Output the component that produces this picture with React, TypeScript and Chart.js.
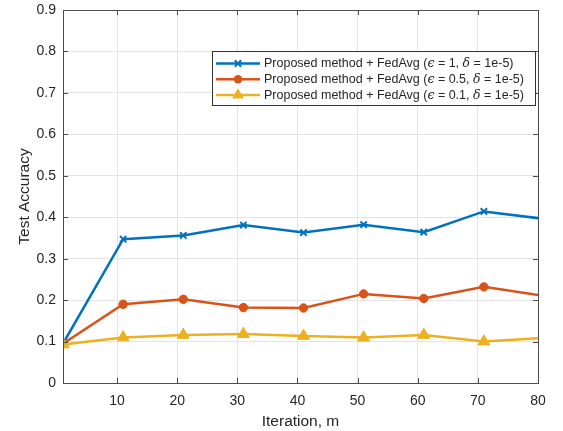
import React, { useEffect, useRef } from 'react';
import { Chart, registerables } from 'chart.js';

Chart.register(...registerables);

const iterations = [1, 11, 21, 31, 41, 51, 61, 71, 81];
const accEps1 = [0.095, 0.347, 0.356, 0.381, 0.363, 0.382, 0.364, 0.414, 0.396];
const accEps05 = [0.095, 0.19, 0.202, 0.182, 0.181, 0.215, 0.204, 0.232, 0.21];
const accEps01 = [0.093, 0.11, 0.116, 0.118, 0.1135, 0.1095, 0.116, 0.1, 0.109];
const xTickValues = [10, 20, 30, 40, 50, 60, 70, 80];
const yTickValues = [0, 0.1, 0.2, 0.3, 0.4, 0.5, 0.6, 0.7, 0.8, 0.9];
const epsLabels = ['1', '0.5', '0.1'];
const deltaLabel = '1e-5';
const seriesColors = ['#0072BD', '#D95319', '#EDB120'];
const seriesStyles = ['crossRot', 'circle', 'triangle'];
const seriesRadius = [4.5, 4.2, 6.8];

const FONT = '"Liberation Sans", Arial, Helvetica, sans-serif';
const TEXT = '#262626';
const AXIS = '#4d4d4d';

function drawMarker(ctx: CanvasRenderingContext2D, style: string, x: number, y: number, r: number, color: string) {
  ctx.save();
  ctx.fillStyle = color;
  ctx.strokeStyle = color;
  ctx.lineWidth = 2;
  ctx.beginPath();
  if (style === 'circle') {
    ctx.arc(x, y, r, 0, Math.PI * 2);
    ctx.fill();
  } else if (style === 'triangle') {
    let rad = 0;
    ctx.moveTo(x + Math.sin(rad) * r, y - Math.cos(rad) * r);
    rad += (2 * Math.PI) / 3;
    ctx.lineTo(x + Math.sin(rad) * r, y - Math.cos(rad) * r);
    rad += (2 * Math.PI) / 3;
    ctx.lineTo(x + Math.sin(rad) * r, y - Math.cos(rad) * r);
    ctx.closePath();
    ctx.fill();
  } else {
    const d = r * Math.SQRT1_2;
    ctx.moveTo(x - d, y - d);
    ctx.lineTo(x + d, y + d);
    ctx.moveTo(x - d, y + d);
    ctx.lineTo(x + d, y - d);
    ctx.stroke();
  }
  ctx.restore();
}

const frameAndLegend = {
  id: 'frameAndLegend',
  afterDraw(chart: any) {
    const ctx: CanvasRenderingContext2D = chart.ctx;
    const { left, right, top, bottom } = chart.chartArea;
    const xs = chart.scales.x;
    const ys = chart.scales.y;
    ctx.save();
    ctx.strokeStyle = AXIS;
    ctx.lineWidth = 1;
    ctx.strokeRect(Math.round(left) + 0.5, Math.round(top) + 0.5, Math.round(right) - Math.round(left), Math.round(bottom) - Math.round(top));
    const tl = 5;
    ctx.beginPath();
    xTickValues.forEach((v) => {
      const px = Math.round(xs.getPixelForValue(v)) + 0.5;
      ctx.moveTo(px, bottom);
      ctx.lineTo(px, bottom - tl);
      ctx.moveTo(px, top);
      ctx.lineTo(px, top + tl);
    });
    yTickValues.forEach((v) => {
      const py = Math.round(ys.getPixelForValue(v)) + 0.5;
      ctx.moveTo(left, py);
      ctx.lineTo(left + tl, py);
      ctx.moveTo(right, py);
      ctx.lineTo(right - tl, py);
    });
    ctx.stroke();

    // legend
    const bx = 212.5, by = 51.5, bw = 323, bh = 54;
    ctx.fillStyle = '#ffffff';
    ctx.fillRect(bx, by, bw, bh);
    ctx.strokeStyle = '#333333';
    ctx.lineWidth = 1;
    ctx.strokeRect(bx, by, bw, bh);
    const rowY = [63.5, 79.3, 95];
    epsLabels.forEach((eps, i) => {
      const y = rowY[i];
      ctx.strokeStyle = seriesColors[i];
      ctx.lineWidth = 2.5;
      ctx.beginPath();
      ctx.moveTo(216, y);
      ctx.lineTo(260, y);
      ctx.stroke();
      drawMarker(ctx, seriesStyles[i], 238, y, seriesRadius[i], seriesColors[i]);
      const parts: [string, boolean][] = [
        ['Proposed method + FedAvg (', false],
        ['\u03F5', true],
        [' = ' + eps + ', ', false],
        ['\u03B4', true],
        [' = ' + deltaLabel + ')', false],
      ];
      let x = 264;
      ctx.fillStyle = TEXT;
      ctx.textBaseline = 'middle';
      ctx.textAlign = 'left';
      parts.forEach(([t, it]) => {
        ctx.font = (it ? 'italic ' : '') + '12.5px ' + (it ? '"DejaVu Serif", serif' : FONT);
        ctx.fillText(t, x, y + 0.5);
        x += ctx.measureText(t).width;
      });
    });
    ctx.restore();
  },
};

export default function App() {
  const ref = useRef<HTMLCanvasElement | null>(null);
  useEffect(() => {
    document.body.style.margin = '0';
    const datasets = [accEps1, accEps05, accEps01].map((vals, i) => ({
      label: 'eps ' + epsLabels[i],
      data: iterations.map((x, j) => ({ x, y: vals[j] })),
      borderColor: seriesColors[i],
      backgroundColor: seriesColors[i],
      borderWidth: 2.5,
      pointStyle: seriesStyles[i] as any,
      pointRadius: seriesRadius[i],
      pointBorderWidth: seriesStyles[i] === 'crossRot' ? 2 : 1,
      pointBorderColor: seriesColors[i],
      pointBackgroundColor: seriesColors[i],
      tension: 0,
      clip: { left: 0, top: 0, right: 0, bottom: 0 } as any,
    }));
    const chart = new Chart(ref.current!, {
      type: 'line',
      data: { datasets: datasets.reverse() as any },
      options: {
        animation: false,
        responsive: true,
        maintainAspectRatio: false,
        layout: { padding: { left: 0, right: 25, top: 10, bottom: 0 } },
        plugins: { legend: { display: false }, tooltip: { enabled: false } },
        scales: {
          x: {
            type: 'linear',
            min: 1,
            max: 80,
            afterBuildTicks: (s: any) => {
              s.ticks = xTickValues.map((v) => ({ value: v }));
            },
            afterFit: (s: any) => {
              s.height = 48;
              s.paddingLeft = 0;
              s.paddingRight = 0;
            },
            grid: { color: '#e3e3e3', lineWidth: 1, drawTicks: false },
            border: { display: false },
            ticks: {
              color: TEXT,
              font: { family: FONT, size: 14 },
              padding: 10,
              maxRotation: 0,
              autoSkip: false,
            },
            title: {
              display: true,
              text: 'Iteration, m',
              color: TEXT,
              font: { family: FONT, size: 15.5 },
              padding: { top: 0, bottom: 0 },
            },
          },
          y: {
            type: 'linear',
            min: 0,
            max: 0.9,
            afterBuildTicks: (s: any) => {
              s.ticks = yTickValues.map((v) => ({ value: v }));
            },
            afterFit: (s: any) => {
              s.width = 63;
              s.paddingTop = 0;
              s.paddingBottom = 0;
            },
            grid: { color: '#e3e3e3', lineWidth: 1, drawTicks: false },
            border: { display: false },
            ticks: {
              color: TEXT,
              font: { family: FONT, size: 14 },
              padding: 7,
              autoSkip: false,
              callback: (v: any) => String(Math.round(Number(v) * 10) / 10),
            },
            title: {
              display: true,
              text: 'Test Accuracy',
              color: TEXT,
              font: { family: FONT, size: 15.5 },
              padding: { top: 15, bottom: 0 },
            },
          },
        },
      },
      plugins: [frameAndLegend],
    });
    return () => chart.destroy();
  }, []);
  return (
    <div style={{ width: 563, height: 431, position: 'relative' }}>
      <canvas ref={ref} />
    </div>
  );
}
